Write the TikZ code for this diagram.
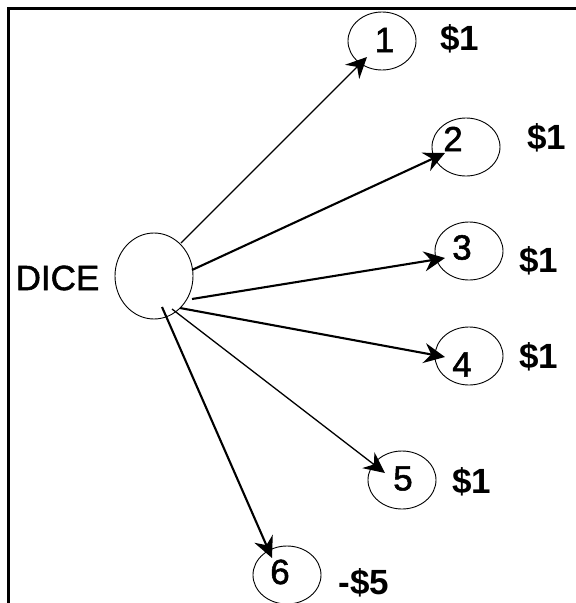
\documentclass[tikz,border=0pt]{standalone}
\usepackage{fontspec}
\setmainfont{Liberation Sans}
\font\medfont="Liberation Sans:embolden=1.5" at 35pt
\usetikzlibrary{arrows.meta,calc,shapes.geometric}
\tikzset{
  outcome/.style={draw,ellipse,line width=0.9pt,minimum width=68pt,minimum height=58pt,inner sep=0pt},
  root/.style={draw,ellipse,line width=0.9pt,minimum width=78pt,minimum height=86pt,inner sep=0pt},
  num/.style={font=\medfont,inner sep=0pt},
  pay/.style={font=\fontsize{35}{40}\selectfont\bfseries,inner sep=0pt},
  thinarr/.style={line width=1.3pt,-{Stealth[length=21pt,width=20pt,inset=7pt]}},
  thickarr/.style={line width=2.1pt,-{Stealth[length=21pt,width=20pt,inset=7pt]}}
}
\begin{document}
\begin{tikzpicture}[x=1pt,y=-1pt]
\useasboundingbox (0,0) rectangle (576,603);
\draw[line width=3pt] (8.5,603) -- (8.5,8.5) -- (576,8.5);
% root
\node[root] (dice) at (154,276) {};
\node[num] (dicelabel) at (57.5,278) {DICE};
% outcomes
\node[outcome] (n1) at (382,41) {};
\node[outcome] (n2) at (466,147) {};
\node[outcome] (n3) at (469,251) {};
\node[outcome] (n4) at (469,356) {};
\node[outcome] (n5) at (402,480) {};
\node[outcome] (n6) at (287,575) {};
\node[num] (t1) at ($(n1)+(2.5,-1)$) {1};
\node[num] (t2) at ($(n2)+(-13,-8)$) {2};
\node[num] (t3) at ($(n3)+(-7,-3.5)$) {3};
\node[num] (t4) at ($(n4)+(-7,8.5)$) {4};
\node[num] (t5) at ($(n5)+(1,-1.5)$) {5};
\node[num] (t6) at ($(n6)+(-7,-3)$) {6};
% payoffs
\node[pay] (p1) at (459.5,39) {\$1};
\node[pay] (p2) at (546.5,137.5) {\$1};
\node[pay] (p3) at (538.5,261) {\$1};
\node[pay] (p4) at (538.5,356.5) {\$1};
\node[pay] (p5) at (471.5,481.5) {\$1};
\node[pay] (p6) at (364,582.5) {-\$5};
% arrows
\draw[thinarr]  ($(dice)+(27,-33)$) -- ($(n1)+(-15,16)$);
\draw[thickarr] ($(dice)+(38,-6)$)  -- ($(n2)+(-21,6)$);
\draw[thickarr] ($(dice)+(38,23)$)  -- ($(n3)+(-24,7)$);
\draw[thickarr] ($(dice)+(26,32)$)  -- ($(n4)+(-24,1)$);
\draw[thinarr]  ($(dice)+(18,33)$)  -- ($(n5)+(-17,-7)$);
\draw[thickarr] ($(dice)+(8,31)$)   -- ($(n6)+(-15,-17)$);
\end{tikzpicture}
\end{document}
